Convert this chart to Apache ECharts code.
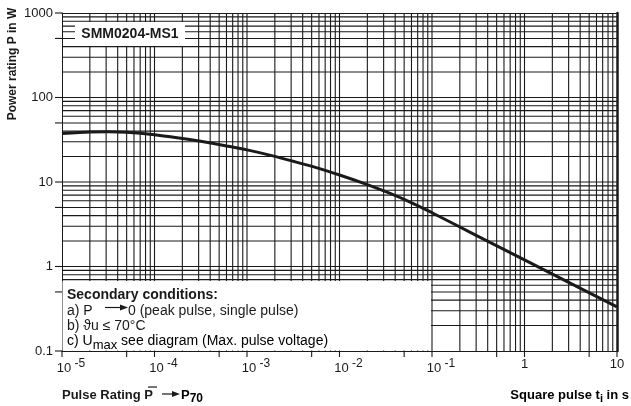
<!DOCTYPE html>
<html><head><meta charset="utf-8">
<script src="https://cdn.jsdelivr.net/npm/echarts@6/dist/echarts.min.js"></script>
<style>html,body{margin:0;padding:0;background:#fff}#c{width:631px;height:406px}</style>
</head><body><div id="c"></div>
<script>
// ---- data ----
const pulseTime   = [1e-5, 2e-5, 3.16e-5, 5e-5, 1e-4, 2e-4, 3.16e-4, 6e-4, 1e-3, 1.9e-3, 3.16e-3, 5.6e-3, 1e-2, 1.9e-2, 3.16e-2, 5e-2, 0.1, 0.3, 1, 3, 10];
const powerRating = [37.5, 39.0, 39.3, 38.8, 36.3, 32.7, 30.3, 26.7, 24.0, 20.4, 17.6, 14.8, 12.1, 9.5, 7.68, 6.22, 4.33, 2.34, 1.2, 0.65, 0.333];
const xTickLabels = ['10^-5', '10^-4', '10^-3', '10^-2', '10^-1', '1', '10'];
const yTickLabels = ['0.1', '1', '10', '100', '1000'];
const xRange = [1e-5, 10];
const yRange = [0.1, 1000];

const FONT = '"Liberation Sans", Arial, Helvetica, sans-serif';
const INK = '#1a1a1a';

// log grid lines and tick marks (kind: 0 vertical grid, 1 horizontal grid, 2 x tick, 3 y tick)
const gridItems = [];
for (let e = -5; e <= 0; e++) for (let m = 1; m <= 9; m++) {
  const v = m * Math.pow(10, e);
  if (v > xRange[0] * 1.0001) gridItems.push([v, 1, 0]);
}
for (let e = -1; e <= 2; e++) for (let m = 1; m <= 9; m++) {
  const v = m * Math.pow(10, e);
  if (v > yRange[0] * 1.0001) gridItems.push([1, v, 1]);
}
for (let e = -5; e <= 1; e++) for (const m of [1, 5]) {
  const v = m * Math.pow(10, e);
  if (v <= xRange[1] * 1.0001) gridItems.push([v, 1, 2]);
}
for (let e = -1; e <= 3; e++) for (const m of [1, 5]) {
  const v = m * Math.pow(10, e);
  if (v <= yRange[1] * 1.0001) gridItems.push([1, v, 3]);
}

function arrow(x1, x2, y) {
  return [
    {type: 'line', z: 102, shape: {x1: x1, y1: y, x2: x2 - 6, y2: y}, style: {stroke: INK, lineWidth: 1.2}},
    {type: 'polygon', z: 102, shape: {points: [[x2 - 8, y - 3], [x2, y], [x2 - 8, y + 3]]}, style: {fill: INK}}
  ];
}

const chart = echarts.init(document.getElementById('c'), null, {renderer: 'canvas'});
const axisLineStyle = {color: INK, width: 1};
chart.setOption({
  backgroundColor: '#fff',
  animation: false,
  grid: {left: 62, right: 14, top: 13, bottom: 55},
  xAxis: [{
    type: 'log', logBase: 10, min: xRange[0], max: xRange[1], position: 'bottom',
    axisLine: {show: true, lineStyle: axisLineStyle},
    axisTick: {show: false}, splitLine: {show: false},
    axisLabel: {
      margin: 7,
      formatter: function (v, i) {
        const s = xTickLabels[i] || '';
        if (s.indexOf('^') >= 0) { const p = s.split('^'); return '{b|' + p[0] + '}{e| ' + p[1] + '}'; }
        return '{p|' + s + '}';
      },
      rich: {
        b: {fontSize: 13, fontFamily: FONT, color: INK, padding: [0, 0, 0, 18]},
        e: {fontSize: 12, fontFamily: FONT, color: INK, padding: [0, 0, 9, 0]},
        p: {fontSize: 13, fontFamily: FONT, color: INK}
      }
    }
  }, {
    type: 'log', logBase: 10, min: xRange[0], max: xRange[1], position: 'top',
    axisLine: {show: true, lineStyle: axisLineStyle},
    axisTick: {show: false}, splitLine: {show: false}, axisLabel: {show: false}
  }],
  yAxis: [{
    type: 'log', logBase: 10, min: yRange[0], max: yRange[1], position: 'left',
    axisLine: {show: true, lineStyle: axisLineStyle},
    axisTick: {show: false}, splitLine: {show: false},
    axisLabel: {
      margin: 9, fontSize: 13, fontFamily: FONT, color: INK,
      formatter: function (v, i) { return yTickLabels[i] || ''; }
    }
  }, {
    type: 'log', logBase: 10, min: yRange[0], max: yRange[1], position: 'right',
    axisLine: {show: true, lineStyle: {color: INK, width: 2.5}},
    axisTick: {show: false}, splitLine: {show: false}, axisLabel: {show: false}
  }],
  series: [{
    type: 'custom', silent: true, clip: false, z: 1,
    xAxisIndex: 0, yAxisIndex: 0,
    data: gridItems,
    renderItem: function (params, api) {
      const cs = params.coordSys;
      const kind = api.value(2);
      const p = api.coord([api.value(0), api.value(1)]);
      let shape;
      if (kind === 0) shape = {x1: p[0], y1: cs.y, x2: p[0], y2: cs.y + cs.height};
      else if (kind === 1) shape = {x1: cs.x, y1: p[1], x2: cs.x + cs.width, y2: p[1]};
      else if (kind === 2) shape = {x1: p[0], y1: cs.y + cs.height, x2: p[0], y2: cs.y + cs.height + 6};
      else shape = {x1: cs.x - 7, y1: p[1], x2: cs.x, y2: p[1]};
      return {type: 'line', shape: shape, style: {stroke: INK, lineWidth: 1.1}};
    }
  }, {
    type: 'line', z: 5, xAxisIndex: 0, yAxisIndex: 0,
    data: pulseTime.map((t, i) => [t, powerRating[i]]),
    smooth: 0.25, showSymbol: false, silent: true,
    lineStyle: {color: INK, width: 3}
  }],
  graphic: [
    {type: 'rect', z: 100, shape: {x: 75, y: 22, width: 110, height: 24}, style: {fill: '#fff'}},
    {type: 'text', z: 101, x: 130, y: 34, style: {text: 'SMM0204-MS1', font: 'bold 14px ' + FONT, fill: INK, align: 'center', verticalAlign: 'middle'}},
    {type: 'rect', z: 100, shape: {x: 62.5, y: 281, width: 368.5, height: 69.5}, style: {fill: '#fff'}},
    {type: 'text', z: 101, x: 67, y: 295, style: {text: 'Secondary conditions:', font: 'bold 14px ' + FONT, fill: INK, align: 'left', verticalAlign: 'middle'}},
    {type: 'text', z: 101, x: 67, y: 311, style: {text: 'a) P', font: '14px ' + FONT, fill: INK, align: 'left', verticalAlign: 'middle'}},
    ...arrow(105, 128, 307.5),
    {type: 'text', z: 101, x: 128, y: 311, style: {text: '0 (peak pulse, single pulse)', font: '14px ' + FONT, fill: INK, align: 'left', verticalAlign: 'middle'}},
    {type: 'text', z: 101, x: 67, y: 326, style: {text: 'b) \u03D1u \u2264 70\u00B0C', font: '14px ' + FONT, fill: INK, align: 'left', verticalAlign: 'middle'}},
    {type: 'text', z: 101, x: 67, y: 341, style: {
      text: '{n|c) U}{s|max}{n| see diagram (Max. pulse voltage)}', align: 'left', verticalAlign: 'middle',
      rich: {n: {fontSize: 14, fontFamily: FONT, color: INK}, s: {fontSize: 13, fontFamily: FONT, color: INK, padding: [9, 0, 0, 0]}}
    }},
    // axis names
    {type: 'text', z: 101, x: 13, y: 64, rotation: Math.PI / 2, style: {text: 'Power rating P in W', font: 'bold 12px ' + FONT, fill: INK, align: 'center', verticalAlign: 'middle'}},
    {type: 'text', z: 101, x: 62, y: 395, style: {text: 'Pulse Rating P', font: 'bold 13px ' + FONT, fill: INK, align: 'left', verticalAlign: 'middle'}},
    {type: 'line', z: 102, shape: {x1: 148, y1: 387, x2: 157, y2: 387}, style: {stroke: INK, lineWidth: 1.2}},
    ...arrow(162, 180, 394),
    {type: 'text', z: 101, x: 181, y: 395, style: {
      text: '{n|P}{s|70}', align: 'left', verticalAlign: 'middle',
      rich: {n: {fontSize: 13, fontWeight: 'bold', fontFamily: FONT, color: INK}, s: {fontSize: 12, fontWeight: 'bold', fontFamily: FONT, color: INK, padding: [7, 0, 0, 0]}}
    }},
    {type: 'text', z: 101, x: 629, y: 395, style: {
      text: '{n|Square pulse t}{s|i}{n| in s}', align: 'right', verticalAlign: 'middle',
      rich: {n: {fontSize: 13, fontWeight: 'bold', fontFamily: FONT, color: INK}, s: {fontSize: 11, fontWeight: 'bold', fontFamily: FONT, color: INK, padding: [7, 0, 0, 0]}}
    }}
  ]
});
</script>
</body></html>
